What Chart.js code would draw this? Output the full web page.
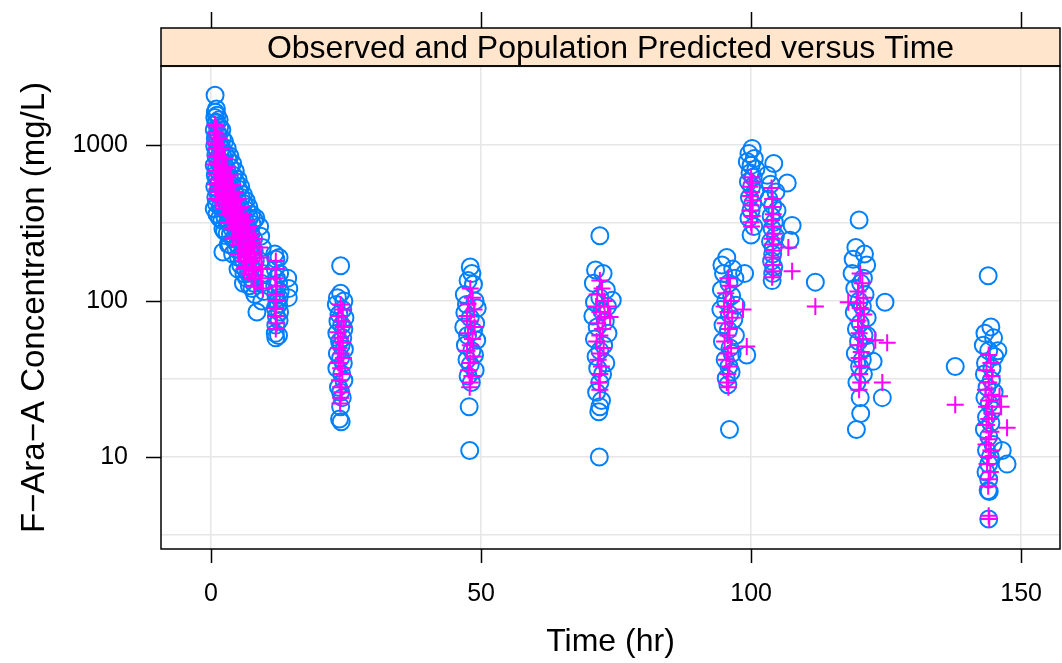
<!DOCTYPE html>
<html>
<head>
<meta charset="utf-8">
<script src="https://cdn.jsdelivr.net/npm/chart.js@4.4.1/dist/chart.umd.min.js"></script>
<style>
  html, body { margin: 0; padding: 0; background: #fff; }
  canvas { display: block; }
</style>
</head>
<body>
<canvas id="pkChart" width="1062" height="663"></canvas>
<script>
// observed concentrations [time (hr), conc (mg/L)]
const observed = [
  [0.75,2080],[0.8,1620],[0.7,1500],[0.9,1380],[0.6,1250],[0.8,1100],[0.7,980],[0.9,860],[0.6,740],[0.8,640],[0.7,540],[0.9,460],[0.6,390],
  [1.0,1700],[1.1,1550],[1.0,1400],[1.2,1200],[1.0,1050],[1.1,920],[1.2,800],[1.0,700],[1.1,600],[1.2,500],[1.0,420],[1.1,360],
  [1.5,1450],[1.6,1300],[1.4,1150],[1.5,1000],[1.7,880],[1.5,760],[1.6,650],[1.4,560],[1.5,480],[1.7,400],[1.6,340],
  [2.0,1250],[2.1,1100],[2.0,960],[2.2,850],[1.9,730],[2.1,620],[2.0,540],[2.2,460],[2.1,390],[2.0,330],[2.2,290],[2.2,206],
  [2.5,1050],[2.6,880],[2.4,760],[2.5,650],[2.6,560],[2.5,470],[2.4,400],[2.6,340],[2.5,280],
  [3.0,950],[3.1,820],[2.9,700],[3.0,600],[3.2,520],[3.0,440],[2.9,380],[3.1,320],[3.0,270],[3.2,230],
  [3.5,850],[3.6,720],[3.4,620],[3.5,530],[3.6,450],[3.5,380],[3.4,320],[3.6,270],[3.5,230],
  [4.0,760],[4.1,640],[3.9,550],[4.0,470],[4.2,400],[4.0,340],[3.9,290],[4.1,250],[4.0,200],
  [4.5,680],[4.6,580],[4.4,490],[4.5,420],[4.6,360],[4.5,300],[4.4,250],[4.6,215],
  [5.0,600],[5.1,520],[4.9,440],[5.0,380],[5.2,320],[5.0,270],[5.4,285],[4.9,230],[5.1,190],[5.0,160],
  [5.5,540],[5.6,460],[5.4,400],[5.5,340],[5.6,290],[5.5,240],[5.6,200],[5.5,170],
  [6.0,480],[6.1,420],[5.9,360],[6.0,300],[6.2,260],[6.0,220],[5.9,185],[6.1,150],[6.0,130],
  [6.5,440],[6.6,380],[6.4,320],[6.5,270],[6.6,230],[6.5,195],[6.4,160],[6.6,140],
  [7.0,400],[7.1,340],[6.9,290],[7.0,250],[7.2,210],[7.0,180],[6.9,150],[7.1,125],
  [7.5,360],[7.6,310],[7.4,270],[7.5,230],[7.6,195],[7.5,165],[7.4,140],[7.6,120],
  [8.0,330],[8.3,340],[7.9,250],[8.0,210],[8.2,180],[8.0,155],[7.9,130],[8.1,110],[8.5,85],
  [9.0,300],[9.2,260],[9.5,220],[9.1,180],[9.6,150],[9.3,130],[9.8,115],[9.4,100],
  [11.8,200],[12.0,185],[11.9,160],[12.1,140],[11.8,125],[12.0,110],[12.2,100],[11.9,90],[12.1,80],[12.0,70],[11.9,62],[12.0,58],
  [12.6,190],[12.7,150],[12.5,130],[12.8,115],[12.6,105],[12.5,95],[12.7,85],[12.6,75],[12.5,60],
  [14.2,140],[14.4,120],[14.3,105],
  [24.0,168],[24.0,112],[23.4,105],[24.6,100],[23.2,95],[24.4,88],[23.7,82],[24.8,78],[23.5,74],[24.2,70],[24.6,66],[23.3,62],[24.4,58],[23.8,55],
  [24.1,52],[24.7,49],[23.4,46],[24.0,43],[24.5,40],[23.3,37],[24.2,34],[24.6,31],[23.6,28],[24.0,26],[24.3,24],[24.0,21],[23.8,17.5],[24.1,16.8],
  [48.0,165],[48.3,150],[47.6,135],[48.6,128],[46.9,110],[48.9,100],[47.3,95],[49.3,90],[47.0,84],[48.0,78],[49.0,72],[46.8,68],[48.6,64],
  [47.5,60],[49.2,56],[47.1,52],[48.3,48],[48.8,45],[47.4,42],[48.0,39],[48.9,36],[47.6,33],[48.2,30],[47.8,21],[47.9,11],
  [72.0,262],[71.2,158],[72.6,150],[70.8,130],[73.2,118],[74.3,101],[72.0,105],[71.0,98],[73.4,92],[72.4,86],[70.7,80],[73.0,74],[71.5,68],
  [73.5,62],[71.0,57],[72.7,52],[72.0,48],[71.3,44],[73.1,40],[71.6,37],[72.5,34],[72.0,30],[71.4,26],[72.3,23],[72.0,21],[71.8,19.5],[71.9,10],
  [95.5,190],[94.6,170],[96.6,160],[94.9,150],[97.0,140],[95.9,130],[94.5,118],[96.4,108],[95.3,100],[97.2,94],[94.4,88],[96.0,82],[96.8,76],
  [94.8,70],[95.8,65],[97.1,60],[94.7,55],[96.1,50],[96.5,46],[95.2,42],[95.9,38],[96.3,35],[95.4,32],[95.7,29],[96.0,15],[98.8,150],[99.2,45],
  [100.2,950],[99.6,880],[100.6,820],[99.3,780],[100.0,740],[100.9,700],[99.8,660],[100.4,620],[99.5,580],[100.1,540],[100.7,500],[99.7,460],
  [100.3,420],[100.0,380],[99.6,340],[100.5,300],[100.0,265],
  [103.0,640],[104.2,760],[103.6,560],[104.6,500],[103.3,450],[104.0,410],[104.8,380],[103.7,350],[104.3,320],[103.9,290],[104.5,260],
  [103.6,240],[104.1,220],[104.0,200],[103.8,180],[104.2,165],[104.0,150],[103.9,135],
  [106.7,570],[107.6,305],[107.2,245],[111.9,132],
  [120.0,330],[119.4,220],[121.0,200],[118.9,185],[121.4,170],[118.7,150],[120.8,140],[120.3,130],[119.2,120],[121.1,110],[120.0,100],
  [120.6,92],[119.1,85],[121.5,78],[120.2,72],[119.5,66],[120.9,60],[119.9,55],[121.2,50],[119.3,46],[120.6,42],[120.1,38],[120.8,34],
  [119.6,30],[120.2,24],[120.3,19],[119.5,15],[122.6,41],[121.5,60],[124.8,98],[124.3,24],
  [137.8,38],
  [143.9,145],[144.4,68],[143.3,62],[144.9,58],[143.0,52],[144.0,48],[145.1,44],[143.4,40],[144.6,37],[143.2,34],[144.5,31],[143.7,28],
  [145.0,26],[143.3,24],[144.1,22],[144.7,20],[143.6,18],[144.4,16.5],[143.2,15],[144.0,13.5],[144.8,12],[143.6,11],[144.3,10],[144.0,9],
  [143.5,8],[144.0,7.2],[143.9,6.1],[144.1,6.0],[144.0,4.0],[145.7,48],[147.4,9],[146.5,11]
];

// population predictions [time (hr), conc (mg/L)]
const predicted = [
  [0.75,1350],[0.8,1200],[0.7,1050],[0.9,950],[0.8,850],[0.7,750],[0.9,650],[0.8,560],
  [1.0,1300],[1.1,1150],[1.0,1000],[1.2,880],[1.1,780],[1.0,680],[1.2,600],[1.1,520],[1.0,450],
  [1.5,1100],[1.6,950],[1.4,850],[1.5,750],[1.6,650],[1.5,570],[1.4,500],[1.6,440],
  [2.0,950],[2.1,820],[2.0,720],[2.2,630],[2.0,550],[2.1,480],[2.2,420],
  [2.5,820],[2.6,700],[2.4,600],[2.5,520],[2.6,450],[2.5,390],
  [3.0,720],[3.1,620],[2.9,540],[3.0,470],[3.2,410],[3.0,360],[3.1,320],
  [3.5,640],[3.6,550],[3.4,480],[3.5,420],[3.6,370],[3.5,320],
  [4.0,560],[4.1,490],[3.9,430],[4.0,380],[4.2,330],[4.0,290],[4.1,250],
  [4.5,500],[4.6,440],[4.4,380],[4.5,330],[4.6,290],[4.5,255],
  [5.0,450],[5.1,390],[4.9,340],[5.0,300],[5.2,260],[5.0,230],[5.1,200],
  [5.5,400],[5.6,350],[5.4,300],[5.5,265],[5.6,230],[5.5,200],
  [6.0,360],[6.1,320],[5.9,280],[6.0,240],[6.2,210],[6.0,180],[6.1,160],
  [6.5,330],[6.6,290],[6.4,250],[6.5,215],[6.6,190],[6.5,165],
  [7.0,300],[7.1,260],[6.9,230],[7.0,200],[7.2,175],[7.0,150],
  [7.5,270],[7.6,235],[7.4,205],[7.5,180],[7.6,158],[7.5,138],
  [8.0,250],[8.1,220],[7.9,190],[8.0,165],[8.2,145],[8.0,125],
  [9.0,220],[9.3,190],[9.5,160],[9.2,140],[9.6,120],
  [12.0,180],[12.1,160],[11.9,140],[12.2,125],[12.0,110],[12.1,100],[11.9,90],[12.0,80],[12.2,72],[12.0,66],
  [24.0,95],[24.4,88],[23.6,80],[24.2,74],[24.6,68],[23.5,63],[24.0,58],[24.4,54],[23.7,50],[24.1,46],[24.5,43],[23.6,40],
  [24.0,37],[24.3,34],[23.8,31],[24.0,28],[24.2,26],[24.0,24],[23.9,22],
  [48.0,120],[48.4,105],[47.6,96],[48.7,88],[47.4,80],[48.0,74],[48.8,68],[47.6,62],[48.4,57],[48.0,52],[47.4,48],[48.6,44],
  [48.0,40],[47.7,36],[48.3,33],[48.0,30],[47.9,28],
  [72.0,135],[72.4,120],[71.5,110],[72.8,100],[71.3,92],[72.0,85],[72.9,78],[71.6,72],[72.5,66],[72.0,60],[71.4,55],[72.7,50],
  [72.0,46],[71.7,42],[72.3,38],[72.0,34],[71.8,30],[72.0,27],[73.9,79],[73.5,92],
  [95.7,140],[96.1,125],[95.3,112],[96.3,100],[95.0,92],[95.7,85],[96.5,78],[95.2,72],[96.0,66],[95.7,60],[95.1,55],[96.3,50],
  [95.7,46],[95.4,42],[96.0,38],[95.7,34],[95.5,30],[95.8,28],[98.5,88],[99.2,51],
  [100.0,620],[100.2,580],[99.8,540],[100.1,500],[99.9,470],[100.3,440],[100.0,410],[99.8,380],[100.2,350],[100.0,320],[100.1,300],
  [103.8,530],[104.0,450],[103.9,400],[104.1,360],[103.8,330],[104.0,300],[104.2,270],[103.9,250],[104.0,230],[104.1,210],
  [103.9,190],[104.0,170],[104.1,155],[103.9,142],
  [106.9,220],[107.6,155],[111.9,92],
  [120.2,150],[120.6,130],[119.8,115],[120.8,105],[119.6,97],[120.2,90],[120.9,82],[119.8,75],[120.5,68],[120.0,62],[120.7,57],
  [119.8,52],[120.4,47],[120.0,43],[120.4,38],[120.1,34],[120.3,30],[120.0,27],[123.0,56],[125.2,54],[124.3,30],[118.0,98],
  [137.8,21.6],
  [144.0,45],[144.4,40],[143.6,36],[144.6,33],[144.0,30],[143.4,27],[144.5,25],[144.0,23],[143.6,21],[144.6,19],[144.0,17.5],
  [143.6,16],[144.4,14.5],[144.0,13],[143.5,12],[144.4,11],[144.0,10],[143.7,9],[144.3,8],[144.0,7.2],[143.9,6.5],[144.0,4.2],
  [144.1,4.0],[146.0,24.5],[146.3,21],[147.4,15.4]
];

const xTicks = [0, 50, 100, 150];
const yLabelTicks = [10, 100, 1000];
const yGridTicks = [3.1623, 10, 31.623, 100, 316.23, 1000, 3162.3];

const stripTitle = "Observed and Population Predicted versus Time";
const FONT = "'Liberation Sans', Arial, Helvetica, sans-serif";

// panel frame, strip and tick marks (lattice style)
const latticeFrame = {
  id: 'latticeFrame',
  afterDraw(chart) {
    const { ctx, chartArea: a, scales } = chart;
    const xs = scales.x, ys = scales.y;
    ctx.save();
    ctx.strokeStyle = '#000';
    ctx.lineWidth = 1.5;

    // strip
    const stripTop = 28;
    ctx.fillStyle = '#ffe5cc';
    ctx.fillRect(a.left, stripTop, a.right - a.left, a.top - stripTop);
    ctx.strokeRect(a.left, stripTop, a.right - a.left, a.top - stripTop);
    ctx.fillStyle = '#000';
    ctx.font = '32px ' + FONT;
    ctx.textAlign = 'center';
    ctx.textBaseline = 'alphabetic';
    ctx.fillText(stripTitle, (a.left + a.right) / 2, 57.5);

    // panel box
    ctx.strokeRect(a.left, a.top, a.right - a.left, a.bottom - a.top);

    // tick marks
    ctx.beginPath();
    xTicks.forEach(v => {
      const px = Math.round(xs.getPixelForValue(v)) + 0.5;
      ctx.moveTo(px, a.bottom); ctx.lineTo(px, a.bottom + 14);
      ctx.moveTo(px, stripTop); ctx.lineTo(px, stripTop - 16);
    });
    yLabelTicks.forEach(v => {
      const py = Math.round(ys.getPixelForValue(v)) + 0.5;
      ctx.moveTo(a.left, py); ctx.lineTo(a.left - 15, py);
    });
    ctx.stroke();
    ctx.restore();
  }
};

const ctx = document.getElementById('pkChart').getContext('2d');
new Chart(ctx, {
  type: 'scatter',
  data: {
    datasets: [
      {
        label: 'Observed',
        data: observed.map(p => ({ x: p[0], y: p[1] })),
        pointStyle: 'circle',
        pointRadius: 8.5,
        pointBorderWidth: 2,
        borderColor: '#0080ff',
        backgroundColor: 'rgba(0,0,0,0)',
        order: 2
      },
      {
        label: 'Population Predicted',
        data: predicted.map(p => ({ x: p[0], y: p[1] })),
        pointStyle: 'cross',
        pointRadius: 8.5,
        pointBorderWidth: 2,
        borderColor: '#ff00ff',
        backgroundColor: '#ff00ff',
        order: 1
      }
    ]
  },
  options: {
    responsive: false,
    devicePixelRatio: 1,
    animation: false,
    events: [],
    layout: { autoPadding: false, padding: { left: 0, right: 2, top: 66, bottom: 0 } },
    plugins: {
      legend: { display: false },
      tooltip: { enabled: false },
      title: { display: false }
    },
    scales: {
      x: {
        type: 'linear',
        min: -9.26,
        max: 157.2,
        afterBuildTicks: s => { s.ticks = xTicks.map(v => ({ value: v })); },
        afterFit: s => { s.height = 114; s.paddingLeft = 0; s.paddingRight = 0; },
        grid: { color: '#e6e6e6', lineWidth: 1.5, drawTicks: false },
        border: { display: false },
        ticks: {
          color: '#000',
          font: { family: FONT, size: 25 },
          padding: 30,
          maxRotation: 0
        },
        title: {
          display: true,
          text: 'Time (hr)',
          color: '#000',
          font: { family: FONT, size: 32 },
          padding: { top: 0, bottom: 2 }
        }
      },
      y: {
        type: 'logarithmic',
        min: 2.57,
        max: 3206,
        afterBuildTicks: s => { s.ticks = yGridTicks.map(v => ({ value: v })); },
        afterFit: s => { s.width = 161; s.paddingTop = 0; s.paddingBottom = 0; },
        grid: { color: '#e6e6e6', lineWidth: 1.5, drawTicks: false },
        border: { display: false },
        ticks: {
          color: '#000',
          font: { family: FONT, size: 25 },
          padding: 33,
          autoSkip: false,
          callback: v => yLabelTicks.includes(v) ? String(v) : ''
        },
        title: {
          display: true,
          text: 'F\u2212Ara\u2212A Concentration (mg/L)',
          color: '#000',
          font: { family: FONT, size: 33 },
          padding: { top: 15, bottom: 0 }
        }
      }
    }
  },
  plugins: [latticeFrame]
});
</script>
</body>
</html>
